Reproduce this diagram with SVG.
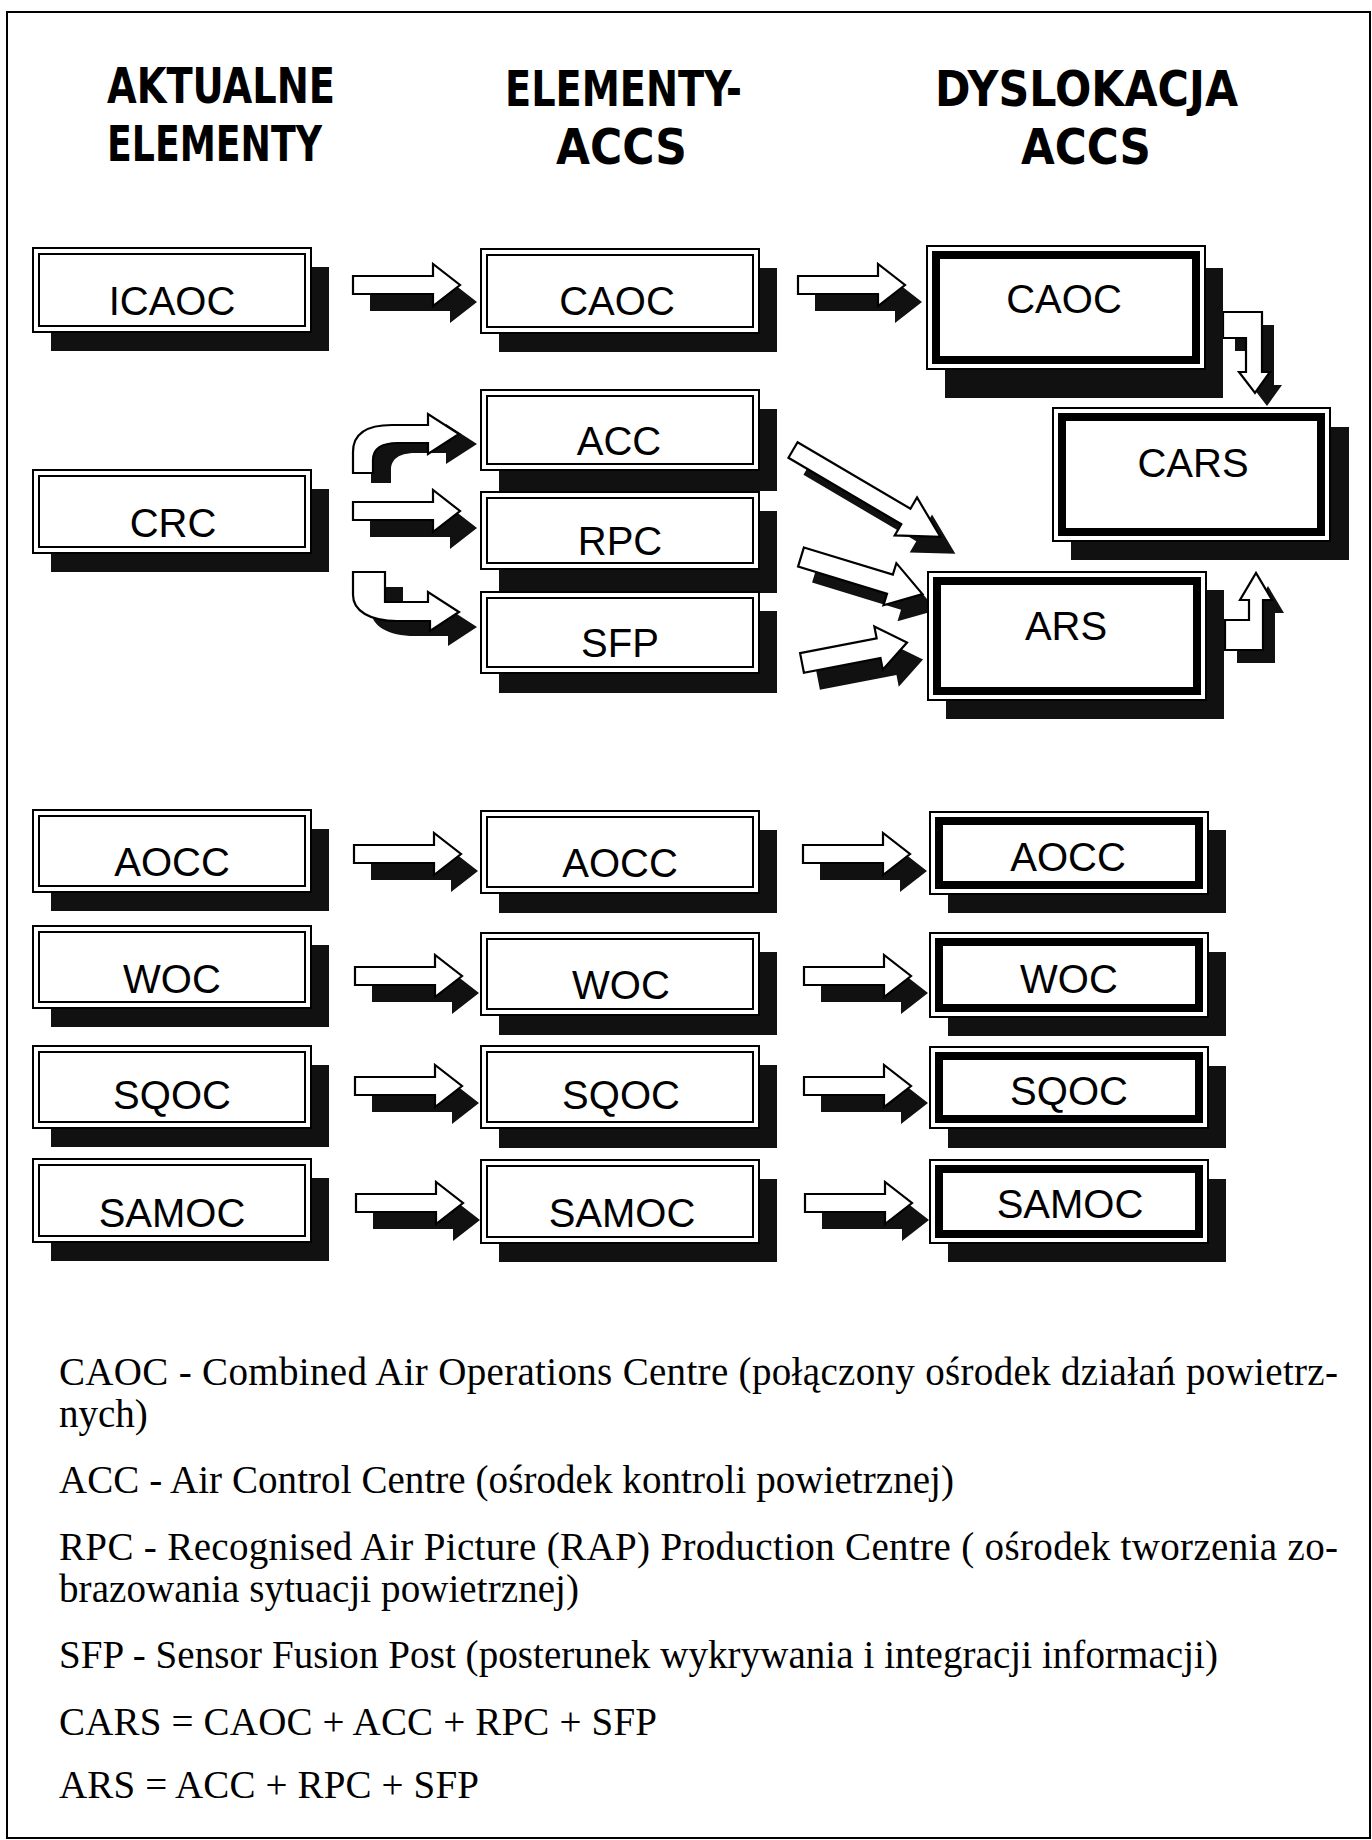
<svg xmlns="http://www.w3.org/2000/svg" xmlns:xlink="http://www.w3.org/1999/xlink" width="1372" height="1840" viewBox="0 0 1372 1840">
<style>
.frame{fill:none;stroke:#000;stroke-width:2}
.sh{fill:#111}
.o{fill:#fff;stroke:#000;stroke-width:2}
.i{fill:none;stroke:#000;stroke-width:2}
.t{fill:none;stroke:#000;stroke-width:8}
.lbl{font-family:"Liberation Sans",Arial,sans-serif;font-size:40px;text-anchor:middle;fill:#000}
.hd{font-family:"DejaVu Sans","Liberation Sans",sans-serif;font-weight:bold;font-size:50px;fill:#000}
.lg{font-family:"Liberation Serif","Times New Roman",serif;font-size:39px;fill:#000}
.aw{fill:#fff;stroke:#000;stroke-width:2.2;stroke-linejoin:miter}
.as{fill:#111}
</style>
<defs>
<path id="sa" d="M0,-9 H80 V-21 L107,0 L80,21 V9 H0 Z"/>
</defs>
<rect class="frame" x="7" y="12" width="1363" height="1826"/>

<g id="headings">
<text class="hd" x="107" y="103" textLength="228" lengthAdjust="spacingAndGlyphs">AKTUALNE</text>
<text class="hd" x="107" y="161" textLength="215" lengthAdjust="spacingAndGlyphs">ELEMENTY</text>
<text class="hd" x="505" y="106" textLength="237" lengthAdjust="spacingAndGlyphs">ELEMENTY-</text>
<text class="hd" x="556" y="164" textLength="131" lengthAdjust="spacingAndGlyphs">ACCS</text>
<text class="hd" x="935" y="106" textLength="303" lengthAdjust="spacingAndGlyphs">DYSLOKACJA</text>
<text class="hd" x="1021" y="164" textLength="130" lengthAdjust="spacingAndGlyphs">ACCS</text>
</g>

<g id="connectors">
<!-- straight arrows: shadow then white -->
<use href="#sa" class="as" x="370" y="302"/><use href="#sa" class="aw" x="353" y="285"/>
<use href="#sa" class="as" x="815" y="302"/><use href="#sa" class="aw" x="798" y="285"/>
<use href="#sa" class="as" x="370" y="528"/><use href="#sa" class="aw" x="353" y="511"/>
<use href="#sa" class="as" x="371" y="871"/><use href="#sa" class="aw" x="354" y="854"/>
<use href="#sa" class="as" x="820" y="871"/><use href="#sa" class="aw" x="803" y="854"/>
<use href="#sa" class="as" x="372" y="993"/><use href="#sa" class="aw" x="355" y="976"/>
<use href="#sa" class="as" x="821" y="993"/><use href="#sa" class="aw" x="804" y="976"/>
<use href="#sa" class="as" x="372" y="1103"/><use href="#sa" class="aw" x="355" y="1086"/>
<use href="#sa" class="as" x="821" y="1103"/><use href="#sa" class="aw" x="804" y="1086"/>
<use href="#sa" class="as" x="373" y="1220"/><use href="#sa" class="aw" x="356" y="1203"/>
<use href="#sa" class="as" x="822" y="1220"/><use href="#sa" class="aw" x="805" y="1203"/>
<!-- CRC -> ACC curved -->
<path class="as" transform="translate(18,10)" d="M353,473 V452 C353,434 366,425 392,425 H428 V414 L459,434 L428,454 V443 H398 C381,443 373,449 373,460 V473 Z"/>
<path class="aw" d="M353,473 V452 C353,434 366,425 392,425 H428 V414 L459,434 L428,454 V443 H398 C381,443 373,449 373,460 V473 Z"/>
<!-- CRC -> SFP curved -->
<path class="as" transform="translate(18,15)" d="M353,572 H385 V602 H428 V592 L459,612 L430,631 V621 H397 C370,621 353,611 353,595 Z"/>
<path class="aw" d="M353,572 H385 V602 H428 V592 L459,612 L430,631 V621 H397 C370,621 353,611 353,595 Z"/>
<!-- ACC -> ARS diagonal -->
<path class="as" transform="translate(808,467) rotate(30.5)" d="M0,-9 H131 V-22 L171,0 L131,22 V9 H0 Z"/>
<path class="aw" transform="translate(793,450) rotate(30.5)" d="M0,-9 H131 V-22 L171,0 L131,22 V9 H0 Z"/>
<!-- RPC -> ARS -->
<path class="as" transform="translate(815,573) rotate(17)" d="M0,-10 H93 V-22 L127,0 L93,22 V10 H0 Z"/>
<path class="aw" transform="translate(801,557) rotate(17)" d="M0,-10 H93 V-22 L127,0 L93,22 V10 H0 Z"/>
<!-- SFP -> ARS -->
<path class="as" transform="translate(818,680) rotate(-11)" d="M0,-10 H78 V-22 L107,0 L78,22 V10 H0 Z"/>
<path class="aw" transform="translate(802,663) rotate(-11)" d="M0,-10 H78 V-22 L107,0 L78,22 V10 H0 Z"/>
<!-- CAOC -> CARS elbow -->
<path class="as" transform="translate(12,13)" d="M1223,312 H1262 V372 H1270 L1255,393 L1239,372 H1246 V338 H1223 Z"/>
<path class="aw" d="M1223,312 H1262 V372 H1270 L1255,393 L1239,372 H1246 V338 H1223 Z"/>
<!-- ARS -> CARS elbow -->
<path class="as" transform="translate(12,13)" d="M1225,620 H1249 V600 H1240 L1256,573 L1272,600 H1263 V650 H1225 Z"/>
<path class="aw" d="M1225,620 H1249 V600 H1240 L1256,573 L1272,600 H1263 V650 H1225 Z"/>
</g>

<!-- Column 1 -->
<g id="n-icaoc"><rect class="sh" x="51" y="267" width="278" height="84"/><rect class="o" x="33" y="248" width="278" height="84"/><rect class="i" x="39" y="254" width="266" height="72"/><text class="lbl" x="172" y="315">ICAOC</text></g>
<g id="n-crc"><rect class="sh" x="51" y="489" width="278" height="83"/><rect class="o" x="33" y="470" width="278" height="83"/><rect class="i" x="39" y="476" width="266" height="71"/><text class="lbl" x="173" y="537">CRC</text></g>
<g id="n-aocc1"><rect class="sh" x="51" y="829" width="278" height="82"/><rect class="o" x="33" y="810" width="278" height="82"/><rect class="i" x="39" y="816" width="266" height="70"/><text class="lbl" x="172" y="876">AOCC</text></g>
<g id="n-woc1"><rect class="sh" x="51" y="945" width="278" height="82"/><rect class="o" x="33" y="926" width="278" height="82"/><rect class="i" x="39" y="932" width="266" height="70"/><text class="lbl" x="172" y="993">WOC</text></g>
<g id="n-sqoc1"><rect class="sh" x="51" y="1065" width="278" height="82"/><rect class="o" x="33" y="1046" width="278" height="82"/><rect class="i" x="39" y="1052" width="266" height="70"/><text class="lbl" x="172" y="1109">SQOC</text></g>
<g id="n-samoc1"><rect class="sh" x="51" y="1178" width="278" height="83"/><rect class="o" x="33" y="1159" width="278" height="83"/><rect class="i" x="39" y="1165" width="266" height="71"/><text class="lbl" x="172" y="1227">SAMOC</text></g>

<!-- Column 2 -->
<g id="n-caoc2"><rect class="sh" x="499" y="268" width="278" height="84"/><rect class="o" x="481" y="249" width="278" height="84"/><rect class="i" x="487" y="255" width="266" height="72"/><text class="lbl" x="617" y="315">CAOC</text></g>
<g id="n-acc"><rect class="sh" x="499" y="409" width="278" height="82"/><rect class="o" x="481" y="390" width="278" height="80"/><rect class="i" x="487" y="396" width="266" height="68"/><text class="lbl" x="619" y="455">ACC</text></g>
<g id="n-rpc"><rect class="sh" x="499" y="511" width="278" height="82"/><rect class="o" x="481" y="492" width="278" height="77"/><rect class="i" x="487" y="498" width="266" height="65"/><text class="lbl" x="620" y="555">RPC</text></g>
<g id="n-sfp"><rect class="sh" x="499" y="611" width="278" height="82"/><rect class="o" x="481" y="592" width="278" height="81"/><rect class="i" x="487" y="598" width="266" height="69"/><text class="lbl" x="620" y="657">SFP</text></g>
<g id="n-aocc2"><rect class="sh" x="499" y="830" width="278" height="83"/><rect class="o" x="481" y="811" width="278" height="82"/><rect class="i" x="487" y="817" width="266" height="70"/><text class="lbl" x="620" y="877">AOCC</text></g>
<g id="n-woc2"><rect class="sh" x="499" y="952" width="278" height="83"/><rect class="o" x="481" y="933" width="278" height="82"/><rect class="i" x="487" y="939" width="266" height="70"/><text class="lbl" x="621" y="999">WOC</text></g>
<g id="n-sqoc2"><rect class="sh" x="499" y="1065" width="278" height="83"/><rect class="o" x="481" y="1046" width="278" height="82"/><rect class="i" x="487" y="1052" width="266" height="70"/><text class="lbl" x="621" y="1109">SQOC</text></g>
<g id="n-samoc2"><rect class="sh" x="499" y="1179" width="278" height="83"/><rect class="o" x="481" y="1160" width="278" height="83"/><rect class="i" x="487" y="1166" width="266" height="71"/><text class="lbl" x="622" y="1227">SAMOC</text></g>

<!-- Column 3 -->
<g id="n-caoc3"><rect class="sh" x="945" y="268" width="278" height="130"/><rect class="o" x="927" y="246" width="278" height="123"/><rect class="t" x="936" y="255" width="260" height="105"/><text class="lbl" x="1064" y="313">CAOC</text></g>
<g id="n-cars"><rect class="sh" x="1071" y="427" width="278" height="133"/><rect class="o" x="1053" y="408" width="277" height="133"/><rect class="t" x="1062" y="417" width="259" height="115"/><text class="lbl" x="1193" y="477">CARS</text></g>
<g id="n-ars"><rect class="sh" x="946" y="590" width="278" height="129"/><rect class="o" x="928" y="572" width="278" height="128"/><rect class="t" x="937" y="581" width="260" height="110"/><text class="lbl" x="1066" y="640">ARS</text></g>
<g id="n-aocc3"><rect class="sh" x="948" y="830" width="278" height="83"/><rect class="o" x="930" y="812" width="278" height="82"/><rect class="t" x="939" y="821" width="260" height="64"/><text class="lbl" x="1068" y="871">AOCC</text></g>
<g id="n-woc3"><rect class="sh" x="948" y="952" width="278" height="84"/><rect class="o" x="930" y="933" width="278" height="84"/><rect class="t" x="939" y="942" width="260" height="66"/><text class="lbl" x="1069" y="993">WOC</text></g>
<g id="n-sqoc3"><rect class="sh" x="948" y="1066" width="278" height="82"/><rect class="o" x="930" y="1047" width="278" height="81"/><rect class="t" x="939" y="1056" width="260" height="63"/><text class="lbl" x="1069" y="1105">SQOC</text></g>
<g id="n-samoc3"><rect class="sh" x="948" y="1179" width="278" height="83"/><rect class="o" x="930" y="1160" width="278" height="83"/><rect class="t" x="939" y="1169" width="260" height="65"/><text class="lbl" x="1070" y="1218">SAMOC</text></g>

<g id="legend">
<text class="lg" x="59" y="1385" textLength="1279">CAOC - Combined Air Operations Centre (połączony ośrodek działań powietrz-</text>
<text class="lg" x="59" y="1427">nych)</text>
<text class="lg" x="59" y="1493" textLength="895">ACC - Air Control Centre (ośrodek kontroli powietrznej)</text>
<text class="lg" x="59" y="1560" textLength="1279">RPC - Recognised Air Picture (RAP) Production Centre ( ośrodek tworzenia zo-</text>
<text class="lg" x="59" y="1602" textLength="520">brazowania sytuacji powietrznej)</text>
<text class="lg" x="59" y="1668" textLength="1159">SFP - Sensor Fusion Post (posterunek wykrywania i integracji informacji)</text>
<text class="lg" x="59" y="1735" textLength="598">CARS = CAOC + ACC + RPC + SFP</text>
<text class="lg" x="59" y="1798" textLength="420">ARS = ACC + RPC + SFP</text>
</g>
</svg>
